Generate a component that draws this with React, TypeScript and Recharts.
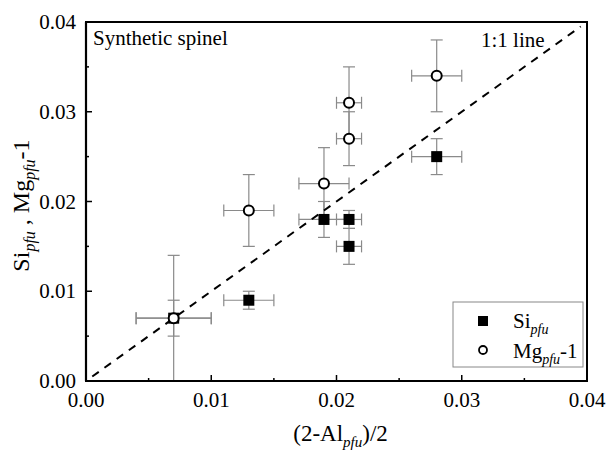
import { ScatterChart, Scatter, XAxis, YAxis, ErrorBar, ReferenceLine, ReferenceArea, Label } from 'recharts'

const FONT = '"Liberation Serif", Tinos, "Times New Roman", serif'
const TICK_MARGIN = 10

// (2-Al)/2 positions, shared by both series
const xVals = [0.007, 0.013, 0.019, 0.021, 0.021, 0.028]
const xErr = [0.003, 0.002, 0.002, 0.001, 0.001, 0.002]

const siVals = [0.007, 0.009, 0.018, 0.018, 0.015, 0.025]
const siErr = [0.002, 0.001, 0.002, 0.001, 0.002, 0.002]

const mgVals = [0.007, 0.019, 0.022, 0.027, 0.031, 0.034]
const mgErr = [0.007, 0.004, 0.004, 0.003, 0.004, 0.004]

const ticks = [0, 0.005, 0.01, 0.015, 0.02, 0.025, 0.03, 0.035, 0.04]
const oneToOne = [{ x: 0.0005, y: 0.0005 }, { x: 0.0395, y: 0.0395 }]

const siData = xVals.map((x, i) => ({ x, y: siVals[i], ex: xErr[i], ey: siErr[i] }))
const mgData = xVals.map((x, i) => ({ x, y: mgVals[i], ex: xErr[i], ey: mgErr[i] }))

const isMajor = (v: number) => Math.round(v * 1000) % 10 === 0

const XTick = (props: any) => {
  const { x, y, payload } = props
  const axisY = y - TICK_MARGIN
  const major = isMajor(payload.value)
  return (
    <g>
      <line x1={x} x2={x} y1={axisY} y2={axisY - (major ? 6 : 3)} stroke="#000" strokeWidth={1.5} />
      {major && (
        <text x={x} y={axisY + 26} textAnchor="middle" fontSize={21} fontFamily={FONT} fill="#000">
          {payload.value.toFixed(2)}
        </text>
      )}
    </g>
  )
}

const YTick = (props: any) => {
  const { x, y, payload } = props
  const axisX = x + TICK_MARGIN
  const major = isMajor(payload.value)
  return (
    <g>
      <line x1={axisX} x2={axisX + (major ? 6 : 3)} y1={y} y2={y} stroke="#000" strokeWidth={1.5} />
      {major && (
        <text x={axisX - 10} y={y + 7} textAnchor="end" fontSize={21} fontFamily={FONT} fill="#000">
          {payload.value.toFixed(2)}
        </text>
      )}
    </g>
  )
}

const Square = (p: any) => <rect x={p.cx - 5.5} y={p.cy - 5.5} width={11} height={11} fill="#000" />
const Ring = (p: any) => <circle cx={p.cx} cy={p.cy} r={5} fill="#fff" stroke="#000" strokeWidth={2} />

const XTitle = (props: any) => {
  const vb = props.viewBox
  return (
    <text x={vb.x + vb.width / 2 + 4} y={vb.y + 60} textAnchor="middle" fontSize={23} fontFamily={FONT} fill="#000">
      <tspan>(2-Al</tspan>
      <tspan dy={6} fontSize={15} fontStyle="italic">pfu</tspan>
      <tspan dy={-6}>)/2</tspan>
    </text>
  )
}

const YTitle = (props: any) => {
  const vb = props.viewBox
  const cx = 29
  const cy = vb.y + vb.height / 2 + 4
  return (
    <text x={cx} y={cy} transform={`rotate(-90, ${cx}, ${cy})`} textAnchor="middle" fontSize={24} fontFamily={FONT} fill="#000">
      <tspan>Si</tspan>
      <tspan dy={6} fontSize={16} fontStyle="italic">pfu</tspan>
      <tspan dy={-6}> , Mg</tspan>
      <tspan dy={6} fontSize={16} fontStyle="italic">pfu</tspan>
      <tspan dy={-6}>-1</tspan>
    </text>
  )
}

// annotations and legend, placed inside the plot frame
const FrameExtras = (props: any) => {
  const vb = props.viewBox
  const right = vb.x + vb.width
  const bottom = vb.y + vb.height
  const lx = right - 134
  const ly = bottom - 79
  return (
    <g fontFamily={FONT} fill="#000">
      <text x={vb.x + 7} y={vb.y + 23} fontSize={21}>Synthetic spinel</text>
      <text x={right - 106} y={vb.y + 25} fontSize={21}>1:1 line</text>
      <rect x={lx} y={ly} width={130} height={65} fill="#fff" stroke="#888" strokeWidth={1} />
      <rect x={lx + 25} y={ly + 14} width={10} height={10} fill="#000" />
      <text x={lx + 60} y={ly + 26} fontSize={21}>
        <tspan>Si</tspan>
        <tspan dy={6} fontSize={14} fontStyle="italic">pfu</tspan>
      </text>
      <circle cx={lx + 30} cy={ly + 48} r={4} fill="#fff" stroke="#000" strokeWidth={1.8} />
      <text x={lx + 60} y={ly + 56} fontSize={21}>
        <tspan>Mg</tspan>
        <tspan dy={6} fontSize={14} fontStyle="italic">pfu</tspan>
        <tspan dy={-6}>-1</tspan>
      </text>
    </g>
  )
}

export default function App() {
  return (
    <div style={{ position: 'absolute', left: 0, top: 0, background: '#fff' }}>
      <ScatterChart width={608} height={450} margin={{ top: 22, right: 21, left: 0, bottom: 0 }}>
        <XAxis
          type="number"
          dataKey="x"
          domain={[0, 0.04]}
          ticks={ticks}
          interval={0}
          tickSize={0}
          tickMargin={TICK_MARGIN}
          tickLine={false}
          tick={<XTick />}
          height={69}
          axisLine={{ stroke: '#000', strokeWidth: 2.2 }}
        >
          <Label content={<XTitle />} />
        </XAxis>
        <YAxis
          type="number"
          dataKey="y"
          domain={[0, 0.04]}
          ticks={ticks}
          interval={0}
          tickSize={0}
          tickMargin={TICK_MARGIN}
          tickLine={false}
          tick={<YTick />}
          width={86}
          axisLine={{ stroke: '#000', strokeWidth: 2.2 }}
        >
          <Label content={<YTitle />} />
        </YAxis>
        <ReferenceArea x1={0} x2={0.04} y1={0} y2={0.04} fill="none" fillOpacity={0} stroke="#000" strokeWidth={2} label={<FrameExtras />} />
        <Scatter name="Si" data={siData} shape={<Square />} isAnimationActive={false}>
          <ErrorBar dataKey="ex" direction="x" width={6} stroke="#8a8a8a" strokeWidth={1.2} />
          <ErrorBar dataKey="ey" direction="y" width={6} stroke="#8a8a8a" strokeWidth={1.2} />
        </Scatter>
        <Scatter name="Mg" data={mgData} shape={<Ring />} isAnimationActive={false}>
          <ErrorBar dataKey="ex" direction="x" width={6} stroke="#8a8a8a" strokeWidth={1.2} />
          <ErrorBar dataKey="ey" direction="y" width={6} stroke="#8a8a8a" strokeWidth={1.2} />
        </Scatter>
        <ReferenceLine segment={oneToOne} stroke="#000" strokeWidth={2} strokeDasharray="8 7" />
      </ScatterChart>
    </div>
  )
}
